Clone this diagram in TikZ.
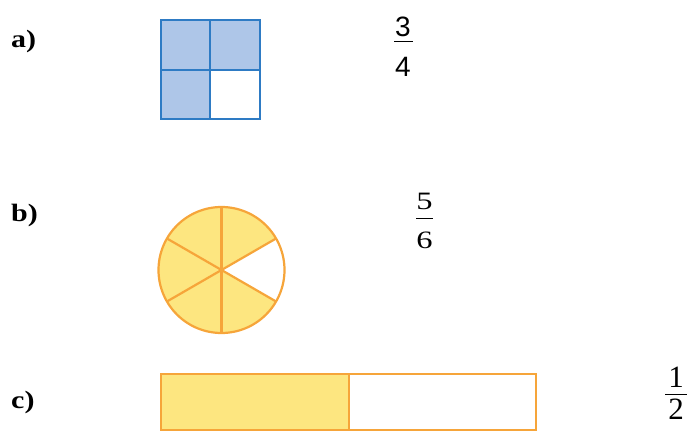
\documentclass[tikz,border=0pt]{standalone}
\usepackage{fontspec}
\setmainfont{Liberation Serif}
\newfontfamily\fracsans{Liberation Sans}
\definecolor{bfill}{HTML}{AEC6E8}
\definecolor{bline}{HTML}{2E7BC4}
\definecolor{yfill}{HTML}{FDE680}
\definecolor{oline}{HTML}{F6A53A}
\newcommand{\widetxt}[2]{\scalebox{#1}[1]{#2}}
\begin{document}
\begin{tikzpicture}[x=1pt,y=-1pt,
  lbl/.style={font=\fontsize{25}{27}\selectfont\bfseries, anchor=base west, inner sep=0pt},
  dig/.style={font=\fontsize{28}{30}\selectfont, inner sep=0pt},
  bar/.style={line width=1pt}]
\useasboundingbox (0,0) rectangle (691,436);
% labels
\node[lbl] (la) at (11,48) {\widetxt{1.2}{a)}};
\node[lbl] (lb) at (11,221) {\widetxt{1.2}{b)}};
\node[lbl] (lc) at (11,408) {\widetxt{1.2}{c)}};
% a) square
\fill[bfill] (161,20) rectangle (260,119);
\fill[white] (210,70) rectangle (260,119);
\draw[draw=bline, line width=2.4pt] (161,20) rectangle (260,119);
\draw[draw=bline, line width=2.4pt] (210,20) -- (210,119) (161,70) -- (260,70);
% a) fraction
\node[dig, font=\fontsize{28}{30}\selectfont\fracsans] (na) at (403,27) {3};
\node[dig, font=\fontsize{28}{30}\selectfont\fracsans] (da) at (403,67) {4};
\draw[bar] (394,42) -- (413,42);
% b) circle
\coordinate (c) at (221.5,270);
\fill[yfill] (c) circle (63);
\fill[white] (c) -- ++(-30:63) arc[start angle=-30, end angle=30, radius=63] -- cycle;
\draw[oline, line width=2.2pt] (c) circle (63);
\foreach \a in {90,30,-30,-90,-150,150} \draw[oline, line width=2.2pt] (c) -- ++(\a:63);
% b) fraction
\node[dig, font=\fontsize{25}{27}\selectfont] (nb) at (424.5,201) {\widetxt{1.3}{5}};
\node[dig, font=\fontsize{25}{27}\selectfont] (db) at (424.5,240) {\widetxt{1.3}{6}};
\draw[bar] (416,218) -- (433,218);
% c) bar
\fill[yfill] (161,374) rectangle (349,430);
\draw[oline, line width=2.2pt] (161,374) rectangle (536,430);
\draw[oline, line width=2.2pt] (349,374) -- (349,430);
% c) fraction
\node[dig, font=\fontsize{31}{33}\selectfont] (nc) at (676,377.5) {1};
\node[dig, font=\fontsize{31}{33}\selectfont] (dc) at (676,409) {2};
\draw[bar] (665,394) -- (687,394);
\end{tikzpicture}
\end{document}
